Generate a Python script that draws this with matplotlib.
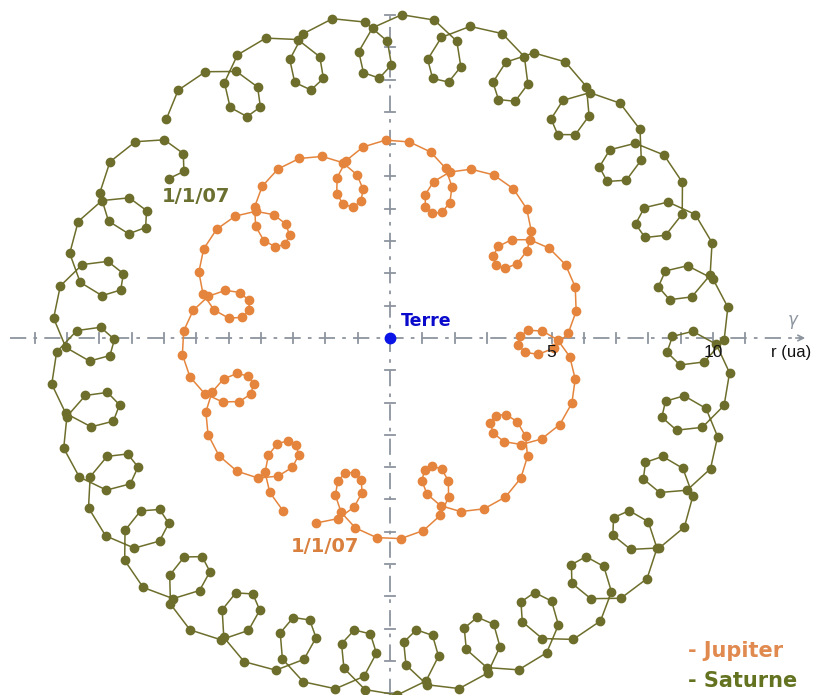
import numpy as np
import matplotlib
matplotlib.use("Agg")
import matplotlib.pyplot as plt

# ---------------- data ----------------
# Heliocentric orbital elements (J2000, ecliptic plane), used to place the
# geocentric positions of each planet starting 1/1/07.
planets = ["Terre", "Jupiter", "Saturne"]
semi_major_ua = [1.00000, 5.2026, 9.5549]
eccentricity = [0.01671, 0.04849, 0.05551]
perihelion_lon_deg = [102.94, 14.33, 93.06]
mean_lon_j2000_deg = [100.46, 34.40, 49.94]
period_years = [1.0000174, 11.862, 29.457]

start_years_after_j2000 = 7.0          # 1/1/2007
jupiter_step_days = 30.44              # one point per month
jupiter_n_points = 143
saturne_step_days = 45.66              # one point every 1.5 months
saturne_n_points = 231

axis_ticks_ua = [-12, -11, -10, -9, -8, -7, -6, -5, -4, -3, -2, -1,
                 1, 2, 3, 4, 5, 6, 7, 8, 9, 10, 11, 12]
axis_labels = {5: "5", 10: "10"}
start_label = "1/1/07"
legend_labels = ["- Jupiter", "- Saturne"]

jup_color = "#e5853d"
sat_color = "#6e6e2c"
axis_color = "#8c949e"


def helio(idx, t_years):
    a, e = semi_major_ua[idx], eccentricity[idx]
    w = np.radians(perihelion_lon_deg[idx])
    L = np.radians(mean_lon_j2000_deg[idx]) + 2 * np.pi * t_years / period_years[idx]
    M = L - w
    E = M.copy()
    for _ in range(30):
        E = E - (E - e * np.sin(E) - M) / (1 - e * np.cos(E))
    v = 2 * np.arctan2(np.sqrt(1 + e) * np.sin(E / 2), np.sqrt(1 - e) * np.cos(E / 2))
    r = a * (1 - e * np.cos(E))
    lon = v + w
    return r * np.cos(lon), r * np.sin(lon)


def geo(idx, step_days, n):
    t = start_years_after_j2000 + np.arange(n) * step_days / 365.25
    px, py = helio(idx, t)
    ex, ey = helio(0, t)
    return px - ex, py - ey


jx, jy = geo(1, jupiter_step_days, jupiter_n_points)
sx, sy = geo(2, saturne_step_days, saturne_n_points)

# ---------------- figure ----------------
W, H = 814, 695
fig = plt.figure(figsize=(W / 100, H / 100), dpi=100)
ax = fig.add_axes([0, 0, 1, 1])
scale = 32.3          # px per ua
cx, cy = 390, 338     # Earth in pixels
ax.set_xlim(-cx / scale, (W - cx) / scale)
ax.set_ylim(-(H - cy) / scale, cy / scale)
ax.set_axis_off()


def P(px, py):
    """pixel position -> data position"""
    return (px - cx) / scale, (cy - py) / scale


# axes (dash-dot)
ls = (0, (9, 4, 2, 4))
ax.plot([P(10, 0)[0], P(803, 0)[0]], [0, 0], color=axis_color,
        lw=1.3, ls=ls, zorder=1)
ax.plot([0, 0], [P(0, H)[1], P(0, 10)[1]], color=axis_color,
        lw=1.3, ls=ls, zorder=1)
ax.annotate("", xy=(P(808, 0)[0], 0), xytext=(P(793, 0)[0], 0),
            arrowprops=dict(arrowstyle="->", color=axis_color, lw=1.2))
tl = 5 / scale
for t in axis_ticks_ua:
    if abs(t) * scale < cx - 10 and t * scale < 790 - cx:
        ax.plot([t, t], [-tl, tl], color=axis_color, lw=1.3, zorder=1)
    if P(0, H)[1] < t < P(0, 10)[1]:
        ax.plot([-tl, tl], [t, t], color=axis_color, lw=1.3, zorder=1)

for t, lab in axis_labels.items():
    ax.text(t, P(0, 353)[1], lab, ha="center", va="center", fontsize=12.5,
            family="Liberation Sans", color="#111111", zorder=10)
ax.text(*P(791, 353), "r (ua)", ha="center", va="center", fontsize=12,
        family="Liberation Sans", color="#111111", zorder=10)
ax.text(*P(793, 320), "γ", ha="center", va="center", fontsize=12,
        family="DejaVu Sans", color=axis_color, style="italic", zorder=10)

# trajectories
ax.plot(sx, sy, "-o", color=sat_color, lw=1.1, ms=6, mec=sat_color, zorder=3)
ax.plot(jx, jy, "-o", color=jup_color, lw=1.1, ms=6, mec=jup_color, zorder=4)

# Earth
ax.plot([0], [0], "o", color="#0a14e6", ms=7.5, zorder=5)
ax.text(*P(426, 321), "Terre", color="#0a0acc", fontsize=12.5, fontweight="bold",
        family="DejaVu Sans", ha="center", va="center", zorder=10)

# start labels
ax.text(*P(325, 546), start_label, color="#d9803f", fontsize=14,
        fontweight="bold", family="DejaVu Sans", ha="center", va="center", zorder=10)
ax.text(*P(196, 197), start_label, color="#6b7030", fontsize=14,
        fontweight="bold", family="DejaVu Sans", ha="center", va="center", zorder=10)

# legend text
ax.text(*P(688, 651), legend_labels[0], color="#e08a50",
        fontsize=15, fontweight="bold", family="DejaVu Sans", ha="left", va="center")
ax.text(*P(688, 681), legend_labels[1], color="#637320",
        fontsize=15, fontweight="bold", family="DejaVu Sans", ha="left", va="center")

fig.savefig("out.png", dpi=100)
